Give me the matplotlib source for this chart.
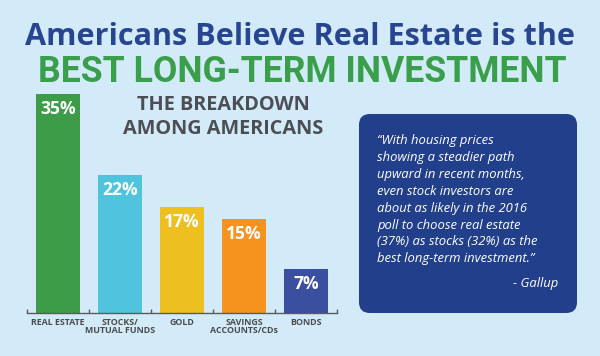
import matplotlib
matplotlib.use("Agg")
import matplotlib.pyplot as plt
from matplotlib.patches import FancyBboxPatch

# data
categories = ["REAL ESTATE", "STOCKS/\nMUTUAL FUNDS", "GOLD", "SAVINGS\nACCOUNTS/CDs", "BONDS"]
shares = [35, 22, 17, 15, 7]
bar_colors = ["#3d9c47", "#4fc4dc", "#edc01f", "#f6921e", "#3a4f9f"]

title_top = "Americans Believe Real Estate is the"
title_bottom = "BEST LONG-TERM INVESTMENT"
subtitle = ["THE BREAKDOWN", "AMONG AMERICANS"]
quote_lines = [
    "\u201cWith housing prices",
    "showing a steadier path",
    "upward in recent months,",
    "even stock investors are",
    "about as likely in the 2016",
    "poll to choose real estate",
    "(37%) as stocks (32%) as the",
    "best long-term investment.\u201d",
]
quote_source = "- Gallup"

W, H = 600, 356
BG = "#d3ebf8"


def px(x, y):
    """pixel coords (from top-left) -> figure fraction"""
    return x / W, 1 - y / H


def fit_width(txt, target_px):
    """shrink/grow a text so it spans target_px wide"""
    r = fig.canvas.get_renderer()
    w = txt.get_window_extent(renderer=r).width
    txt.set_fontsize(txt.get_fontsize() * target_px / w)


fig = plt.figure(figsize=(6, 3.56), dpi=100)
fig.patch.set_facecolor(BG)

# bar chart axes: baseline at y=313px, 35% at y=94px
ax = fig.add_axes([27 / W, (H - 313) / H, 310 / W, 219 / H])
ax.set_facecolor("none")
xs = list(range(len(categories)))
ax.bar(xs, shares, width=0.725, color=bar_colors, zorder=2)
ax.set_xlim(-0.5, len(categories) - 0.5)
ax.set_ylim(0, 35)
for s in ["top", "right", "left"]:
    ax.spines[s].set_visible(False)
ax.spines["bottom"].set_color("#5a5a5a")
ax.spines["bottom"].set_linewidth(1.0)
ax.set_yticks([])
ax.set_xticks([x - 0.5 for x in xs] + [len(categories) - 0.5])
ax.set_xticklabels([])
ax.tick_params(axis="x", direction="in", length=3, width=1.0, color="#5a5a5a")

for x, v in zip(xs, shares):
    ax.annotate(f"{v}%", xy=(x, v), xytext=(0, -14.5), textcoords="offset points",
                ha="center", va="baseline", color="white", fontsize=12.6,
                fontweight="bold", family="Open Sans")

for x, lab in zip(xs, categories):
    lines = lab.split("\n")
    for i, ln in enumerate(lines):
        ax.annotate(ln, xy=(x, 0), xytext=(0, -8.9 - i * 5.6), textcoords="offset points",
                    ha="center", va="baseline", color="#4a4c50", fontsize=6.4,
                    fontweight="bold", family="Open Sans")

# titles
t1 = fig.text(*px(300, 45), title_top, ha="center", va="baseline", color="#274591",
              fontsize=22, fontweight="bold", family="Open Sans")
t2 = fig.text(*px(302, 82), title_bottom, ha="center", va="baseline", color="#3a9f4a",
              fontsize=24, fontweight="bold", family="Roboto")
fit_width(t1, 548)
fit_width(t2, 528)

for i, ln in enumerate(subtitle):
    fig.text(*px(223, 109.5 + i * 24), ln, ha="center", va="baseline", color="#4b4e53",
             fontsize=14.3, fontweight="bold", family="Open Sans")

# quote box
x0, y0, x1, y1 = 359, 114, 577, 313
box = FancyBboxPatch((x0 / W, (H - y1) / H), (x1 - x0) / W, (y1 - y0) / H,
                     boxstyle="round,pad=0,rounding_size=0.018",
                     transform=fig.transFigure, facecolor="#213f8a", edgecolor="none",
                     mutation_aspect=W / H)
fig.patches.append(box)

for i, ln in enumerate(quote_lines):
    fig.text(*px(377, 144.3 + i * 16.86), ln, ha="left", va="baseline", color="white",
             fontsize=9.4, style="italic", family="Open Sans")
fig.text(*px(558, 286.7), quote_source, ha="right", va="baseline", color="white",
         fontsize=9.4, style="italic", family="Open Sans")

fig.savefig("out.png", dpi=100, facecolor=BG)
